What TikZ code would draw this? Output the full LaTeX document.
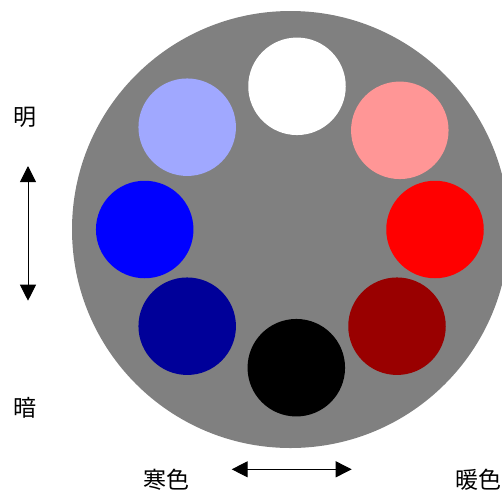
\documentclass[tikz,border=0pt]{standalone}
\usepackage{fontspec}
\newfontfamily\cjk{Noto Sans CJK JP}
\usetikzlibrary{arrows.meta}
\definecolor{bggray}{RGB}{128,128,128}
\definecolor{lightblue}{RGB}{160,168,255}
\definecolor{lightred}{RGB}{255,150,150}
\definecolor{darkblue}{RGB}{0,0,153}
\definecolor{darkred}{RGB}{153,0,0}
\tikzset{
  swatch/.style={circle, draw=none, minimum size=97.5pt, inner sep=0pt},
  lbl/.style={font=\cjk\fontsize{23}{26}\selectfont, inner sep=0pt},
  dbl/.style={{Triangle[length=16pt,width=16pt]}-{Triangle[length=16pt,width=16pt]}, line width=1pt, black}
}
\begin{document}
\begin{tikzpicture}[x=1pt,y=-1pt]
\useasboundingbox (0,0) rectangle (502,491);
\begin{scope}
\clip (0,0) rectangle (502,491);
\fill[bggray] (290.5,229.5) circle[radius=218.5];
\end{scope}
\node[swatch, fill=white] (w) at (297,86.3) {};
\node[swatch, fill=lightred] (lr) at (399.8,130.3) {};
\node[swatch, fill=red] (r) at (435,229.5) {};
\node[swatch, fill=darkred] (dr) at (397,326.2) {};
\node[swatch, fill=black] (k) at (296.3,367.7) {};
\node[swatch, fill=darkblue] (db) at (187.2,326.2) {};
\node[swatch, fill=blue] (b) at (144.7,229.5) {};
\node[swatch, fill=lightblue] (lb) at (187.2,127.2) {};
\node[lbl] (bright) at (24.5,117.5) {明};
\node[lbl] (dark) at (24.5,407.5) {暗};
\node[lbl] (cold) at (166,480) {寒色};
\node[lbl] (warm) at (478,480) {暖色};
\coordinate (vt) at (28,166);
\coordinate (vb) at (28,300.7);
\coordinate (hl) at (231.7,469.3);
\coordinate (hr) at (351.7,469.3);
\draw[dbl] (vt) -- (vb);
\draw[dbl] (hl) -- (hr);
\end{tikzpicture}
\end{document}
